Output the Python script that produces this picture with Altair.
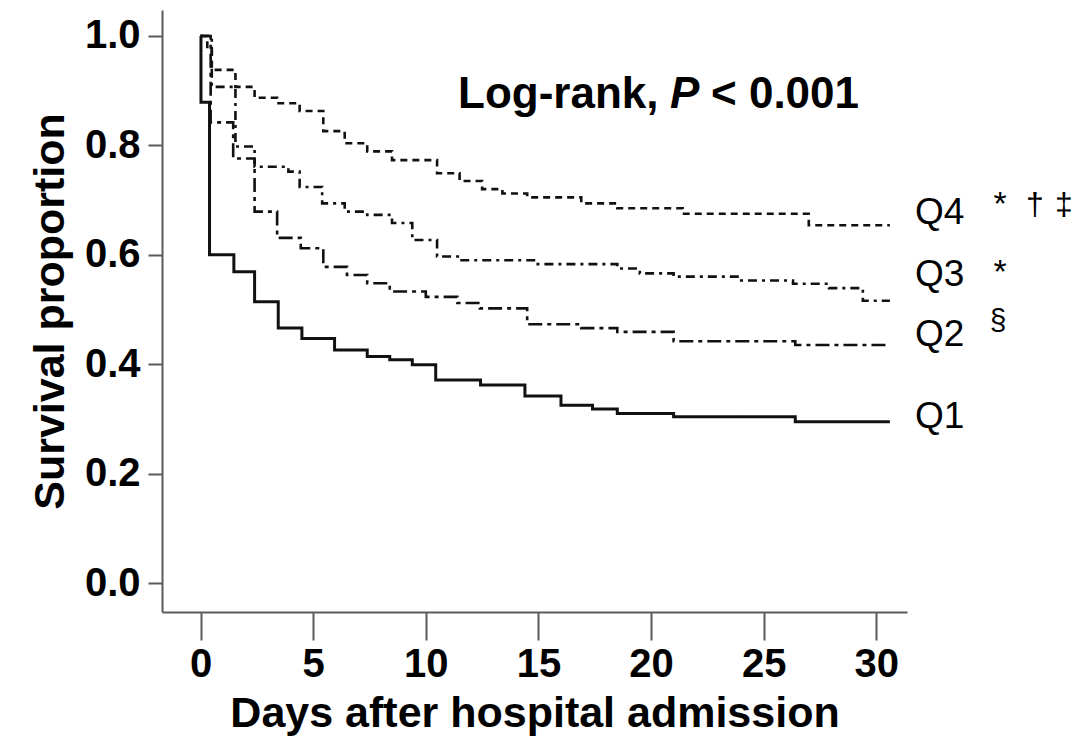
import altair as alt
import pandas as pd

# ---- data ----
groups = ["Q1", "Q2", "Q3", "Q4"]

q1_days = [0, 0.02, 0.4, 1.48, 2.4, 3.45, 4.5, 5.95, 7.4, 8.4, 9.4, 10.44, 12.43, 14.4, 16.0, 17.4, 18.5, 21.0, 26.4, 30.6]
q1_surv = [1.0, 0.879, 0.600, 0.569, 0.514, 0.466, 0.447, 0.426, 0.414, 0.408, 0.399, 0.371, 0.362, 0.342, 0.325, 0.318, 0.310, 0.304, 0.295, 0.295]

q2_days = [0, 0.45, 1.45, 2.4, 3.4, 4.45, 5.45, 6.5, 7.4, 8.4, 10.0, 11.4, 12.4, 14.5, 16.9, 18.5, 21.0, 26.4, 30.6]
q2_surv = [1.0, 0.842, 0.776, 0.679, 0.631, 0.612, 0.578, 0.563, 0.548, 0.533, 0.523, 0.512, 0.502, 0.473, 0.466, 0.459, 0.442, 0.435, 0.435]

q3_days = [0, 0.5, 1.55, 2.4, 3.9, 4.4, 5.4, 6.4, 7.4, 8.5, 9.4, 10.5, 11.5, 14.9, 18.5, 19.5, 21.0, 24.0, 26.3, 27.9, 29.4, 30.6]
q3_surv = [1.0, 0.907, 0.798, 0.761, 0.752, 0.724, 0.694, 0.679, 0.673, 0.658, 0.627, 0.597, 0.590, 0.583, 0.575, 0.566, 0.560, 0.553, 0.547, 0.539, 0.516, 0.516]

q4_days = [0, 0.3, 0.5, 1.55, 2.4, 3.4, 4.4, 5.45, 6.4, 7.4, 8.5, 10.5, 11.5, 12.5, 13.4, 14.5, 16.9, 18.5, 21.4, 27.0, 30.6]
q4_surv = [1.0, 0.98, 0.938, 0.907, 0.887, 0.877, 0.863, 0.826, 0.804, 0.789, 0.773, 0.749, 0.735, 0.720, 0.712, 0.705, 0.694, 0.685, 0.675, 0.654, 0.654]

x_ticks = [0, 5, 10, 15, 20, 25, 30]
y_ticks = [0.0, 0.2, 0.4, 0.6, 0.8, 1.0]

series = {
    "Q1": (q1_days, q1_surv),
    "Q2": (q2_days, q2_surv),
    "Q3": (q3_days, q3_surv),
    "Q4": (q4_days, q4_surv),
}

styles = {
    "Q1": dict(dash=[1, 0], width=3.0),
    "Q2": dict(dash=[14, 5, 4, 5], width=2.6),
    "Q3": dict(dash=[9, 5, 3, 5], width=2.6),
    "Q4": dict(dash=[7, 5], width=2.6),
}

FONT = "Liberation Sans"
AXC = "#5a5a5a"

x_scale = alt.Scale(domain=[-1.71, 31.36], nice=False, zero=False)
y_scale = alt.Scale(domain=[-0.053, 1.0475], nice=False, zero=False)

x_axis = alt.Axis(
    values=x_ticks, format="d", grid=False,
    tickSize=28, tickWidth=2, tickColor=AXC,
    domainColor=AXC, domainWidth=2,
    labelFont=FONT, labelFontSize=40, labelFontWeight="bold",
    labelColor="black", labelPadding=4,
    title="Days after hospital admission",
    titleFont=FONT, titleFontSize=43, titleFontWeight="bold",
    titleColor="black", titlePadding=8,
)
y_axis = alt.Axis(
    values=y_ticks, format=".1f", grid=False,
    tickSize=14, tickWidth=2, tickColor=AXC,
    domainColor=AXC, domainWidth=2,
    labelFont=FONT, labelFontSize=40, labelFontWeight="bold",
    labelColor="black", labelPadding=8,
    title="Survival proportion",
    titleFont=FONT, titleFontSize=43, titleFontWeight="bold",
    titleColor="black", titlePadding=12,
)

layers = []
for g in groups:
    d, s = series[g]
    df = pd.DataFrame({"day": d, "surv": s, "group": g})
    st = styles[g]
    layers.append(
        alt.Chart(df).mark_line(
            interpolate="step-after", color="#111111",
            strokeWidth=st["width"], strokeDash=st["dash"],
        ).encode(
            x=alt.X("day:Q", scale=x_scale, axis=x_axis),
            y=alt.Y("surv:Q", scale=y_scale, axis=y_axis),
        )
    )


def text_mark(txt, x, y, size, weight="normal", style="normal", align="left", baseline="alphabetic"):
    return alt.Chart(pd.DataFrame({"t": [txt]})).mark_text(
        font=FONT, fontSize=size, fontWeight=weight, fontStyle=style,
        align=align, baseline=baseline, color="black",
    ).encode(text="t:N", x=alt.value(x), y=alt.value(y))


# positions relative to plot area (origin at page 162, 10)
annotations = [
    text_mark("Log-rank,", 296, 98, 44, weight="bold"),
    text_mark("P", 508, 98, 44, weight="bold", style="italic"),
    text_mark("< 0.001", 549, 98, 44, weight="bold"),
    text_mark("Q4", 753, 203, 37, baseline="middle"),
    text_mark("Q3", 753, 265, 37, baseline="middle"),
    text_mark("Q2", 753, 325, 37, baseline="middle"),
    text_mark("Q1", 753, 407, 37, baseline="middle"),
    text_mark("*", 838, 205, 34, align="center"),
    text_mark("†", 873, 205, 32, align="center"),
    text_mark("‡", 902, 205, 32, align="center"),
    text_mark("*", 838, 273, 34, align="center"),
    text_mark("§", 836, 320, 30, align="center"),
]

chart = alt.layer(*layers, *annotations).properties(
    width=745,
    height=602,
    autosize=alt.AutoSizeParams(type="none"),
    padding={"left": 162, "top": 10, "right": 172, "bottom": 136},
    background="white",
).configure_view(stroke=None)

chart.save("out.html", embed_options={"renderer": "svg", "actions": False})
